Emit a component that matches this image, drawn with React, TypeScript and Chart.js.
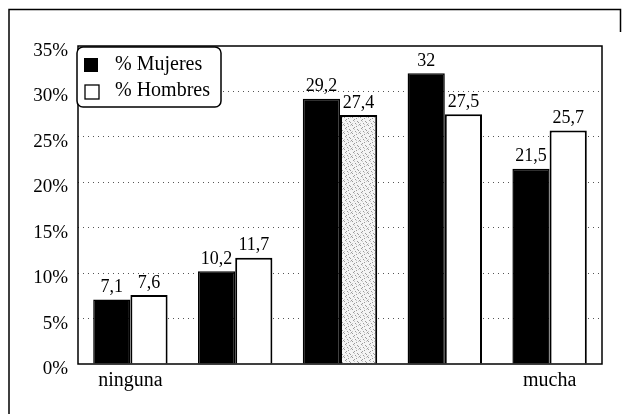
import React, { useEffect, useRef } from "react";
import { Chart, registerables } from "chart.js";

Chart.register(...registerables);

const categories = ["ninguna", "", "", "", "mucha"];
const mujeres = [7.1, 10.2, 29.2, 32, 21.5];
const hombres = [7.6, 11.7, 27.4, 27.5, 25.7];
const seriesNames = ["% Mujeres", "% Hombres"];
const yTicks = [0, 5, 10, 15, 20, 25, 30, 35];

const FONT = "'Liberation Serif', 'Times New Roman', serif";

function makeSpeckle(): any {
  const c = document.createElement("canvas");
  c.width = 8;
  c.height = 8;
  const g = c.getContext("2d")!;
  g.fillStyle = "#f4f4f4";
  g.fillRect(0, 0, 8, 8);
  g.fillStyle = "#9a9a9a";
  const dots = [[1, 0], [5, 1], [3, 3], [7, 4], [0, 5], [4, 6], [2, 7], [6, 2]];
  dots.forEach(([x, y]) => g.fillRect(x, y, 1, 1));
  g.fillStyle = "#c8c8c8";
  [[2, 1], [6, 5], [0, 3], [4, 4]].forEach(([x, y]) => g.fillRect(x, y, 1, 1));
  return g.createPattern(c, "repeat");
}

const framePlugin = {
  id: "frame",
  beforeDraw(chart: any) {
    const ctx = chart.ctx;
    ctx.save();
    ctx.fillStyle = "#fff";
    ctx.fillRect(0, 0, chart.width, chart.height);
    ctx.strokeStyle = "#000";
    ctx.lineWidth = 1.5;
    ctx.beginPath();
    ctx.moveTo(9, chart.height);
    ctx.lineTo(9, 9.5);
    ctx.lineTo(620.5, 9.5);
    ctx.lineTo(620.5, 32);
    ctx.stroke();
    ctx.restore();
  },
};

const plotBorderAndLabels = {
  id: "plotBorderAndLabels",
  afterDatasetsDraw(chart: any) {
    const ctx = chart.ctx;
    const a = chart.chartArea;
    ctx.save();
    ctx.strokeStyle = "#000";
    ctx.lineWidth = 1.5;
    ctx.strokeRect(a.left, a.top, a.right - a.left, a.bottom - a.top);

    ctx.fillStyle = "#000";
    ctx.font = `18px ${FONT}`;
    ctx.textAlign = "center";
    ctx.textBaseline = "bottom";
    chart.data.datasets.forEach((ds: any, di: number) => {
      const meta = chart.getDatasetMeta(di);
      meta.data.forEach((bar: any, i: number) => {
        const v = ds.data[i];
        const txt = String(v).replace(".", ",");
        ctx.fillText(txt, bar.x, bar.y - 3);
      });
    });

    // legend box
    const lx = a.left - 1;
    const ly = a.top + 1;
    const lw = 144;
    const lh = 60;
    ctx.fillStyle = "#fff";
    ctx.beginPath();
    (ctx as any).roundRect(lx, ly, lw, lh, 6);
    ctx.fill();
    ctx.lineWidth = 1.5;
    ctx.stroke();

    ctx.font = `20px ${FONT}`;
    ctx.textAlign = "left";
    ctx.textBaseline = "middle";
    ctx.fillStyle = "#000";
    ctx.fillRect(lx + 7, ly + 11, 14, 14);
    ctx.fillText(seriesNames[0], lx + 38, ly + 18);
    ctx.fillStyle = "#fff";
    ctx.fillRect(lx + 8, ly + 38, 14, 14);
    ctx.lineWidth = 1.3;
    ctx.strokeRect(lx + 8, ly + 38, 14, 14);
    ctx.fillStyle = "#000";
    ctx.fillText(seriesNames[1], lx + 38, ly + 44);
    ctx.restore();
  },
};

export default function App() {
  const ref = useRef<HTMLCanvasElement | null>(null);
  useEffect(() => {
    if (!ref.current) return;
    const speckle = makeSpeckle();
    const hombresFill = hombres.map((_, i) => (i === 2 ? speckle : "#fff"));
    const chart = new Chart(ref.current, {
      type: "bar",
      data: {
        labels: categories,
        datasets: [
          {
            label: seriesNames[0],
            data: mujeres,
            backgroundColor: "#000",
            borderColor: "#000",
            borderWidth: 1.5,
            categoryPercentage: 0.71,
            barPercentage: 1,
          },
          {
            label: seriesNames[1],
            data: hombres,
            backgroundColor: hombresFill,
            borderColor: "#000",
            borderWidth: 2,
            categoryPercentage: 0.71,
            barPercentage: 1,
          },
        ],
      },
      options: {
        animation: false,
        responsive: false,
        maintainAspectRatio: false,
        layout: { padding: { left: 0, top: 46, right: 20, bottom: 0 } },
        plugins: {
          legend: { display: false },
          tooltip: { enabled: false },
        },
        scales: {
          x: {
            grid: { display: false, drawTicks: false },
            border: { display: false },
            ticks: {
              color: "#000",
              font: { family: FONT, size: 20 },
              padding: 5,
              maxRotation: 0,
              autoSkip: false,
            },
            afterFit(scale: any) {
              scale.height = 50;
            },
          },
          y: {
            min: 0,
            max: 35,
            afterBuildTicks(scale: any) {
              scale.ticks = yTicks.map((v) => ({ value: v }));
            },
            grid: {
              drawTicks: false,
              color: (c: any) =>
                c.tick && (c.tick.value === 0 || c.tick.value === 35)
                  ? "rgba(0,0,0,0)"
                  : "#555",
              lineWidth: 1,
            },
            border: { display: false, dash: [1, 4] },
            ticks: {
              color: "#000",
              font: { family: FONT, size: 19 },
              padding: 10,
              labelOffset: 5,
              callback: (v: any) => `${v}%`,
            },
            afterFit(scale: any) {
              scale.width = 78;
            },
          },
        },
      },
      plugins: [framePlugin, plotBorderAndLabels],
    } as any);
    return () => chart.destroy();
  }, []);
  return (
    <div
      style={{
        position: "absolute",
        left: 0,
        top: 0,
        width: 622,
        height: 414,
        overflow: "hidden",
        background: "#fff",
      }}
    >
      <canvas ref={ref} width={622} height={414} style={{ display: "block" }} />
    </div>
  );
}
